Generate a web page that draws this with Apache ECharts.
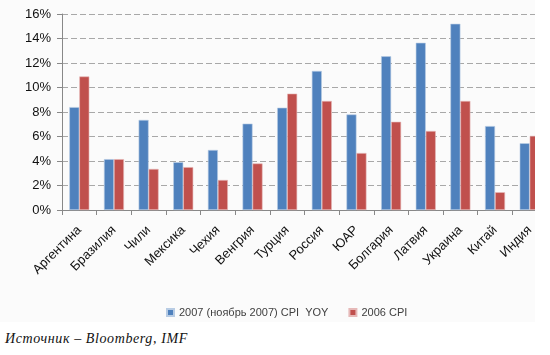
<!DOCTYPE html>
<html><head><meta charset="utf-8">
<script src="https://cdn.jsdelivr.net/npm/echarts@6/dist/echarts.min.js"></script>
<style>
html,body{margin:0;padding:0;background:#fff;}
#clip{position:absolute;left:0;top:0;width:535px;height:322px;overflow:hidden;background:#fbfbfb;}
#chart{width:550px;height:322px;}
#src{position:absolute;left:5px;top:331px;font-family:"Liberation Serif","Times New Roman",serif;font-style:italic;font-size:14px;letter-spacing:0.6px;color:#111;}
</style></head>
<body>
<div id="clip"><div id="chart"></div></div>
<div id="src">Источник – Bloomberg, IMF</div>
<script>
const categories = ["Аргентина","Бразилия","Чили","Мексика","Чехия","Венгрия","Турция","Россия","ЮАР","Болгария","Латвия","Украина","Китай","Индия"];
const cpi2007 = [8.4, 4.15, 7.35, 3.9, 4.9, 7.05, 8.35, 11.35, 7.8, 12.55, 13.65, 15.2, 6.85, 5.45];
const cpi2006 = [10.9, 4.15, 3.35, 3.5, 2.45, 3.8, 9.5, 8.9, 4.65, 7.2, 6.45, 8.9, 1.45, 6.05];
const seriesNames = ["2007 (ноябрь 2007) CPI  YOY", "2006 CPI"];
const yTicks = [0,2,4,6,8,10,12,14,16];

const chart = echarts.init(document.getElementById('chart'), null, {renderer:'canvas'});
chart.setOption({
  animation:false,
  textStyle:{fontFamily:"Liberation Sans, Arial, sans-serif"},
  grid:{left:62, top:14, right:3, bottom:112, containLabel:false},
  legend:{
    data:seriesNames, top:302, left:161, itemWidth:7, itemHeight:7, itemGap:20,
    icon:'rect',
    textStyle:{fontSize:11, color:'#404040', fontFamily:"Liberation Sans Narrow, Liberation Sans, Arial, sans-serif"}
  },
  xAxis:{
    type:'category', data:categories,
    axisLine:{lineStyle:{color:'#888'}},
    axisTick:{show:true, length:5, lineStyle:{color:'#888'}},
    axisLabel:{rotate:45, fontSize:13, color:'#111', margin:18, interval:0}
  },
  yAxis:{
    type:'value', min:yTicks[0], max:yTicks[yTicks.length-1], interval:2,
    axisLine:{show:true, lineStyle:{color:'#888'}},
    axisTick:{show:true, length:5, lineStyle:{color:'#888'}},
    axisLabel:{formatter:'{value}%', fontSize:13, color:'#111', margin:11},
    splitLine:{lineStyle:{color:'#a8a8a8', type:[6,3], width:1}}
  },
  series:[
    {name:seriesNames[0], type:'bar', data:cpi2007, barWidth:10, barGap:'0%',
     itemStyle:{color:'#4F81BD', borderColor:'#b8cce4', borderWidth:0.6}},
    {name:seriesNames[1], type:'bar', data:cpi2006, barWidth:10,
     itemStyle:{color:'#C0504D', borderColor:'#e6b9b8', borderWidth:0.6}}
  ]
});
</script>
</body></html>
